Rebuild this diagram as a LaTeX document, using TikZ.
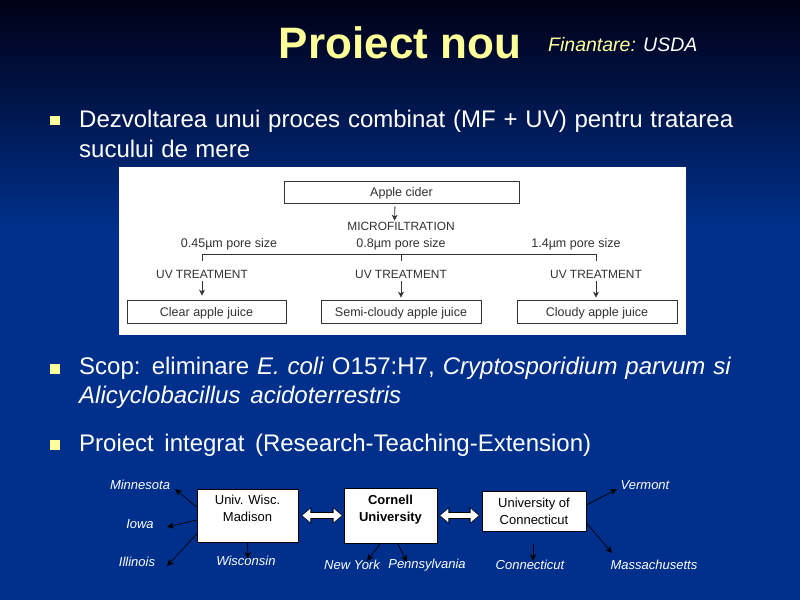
\documentclass[tikz,border=0pt]{standalone}
\usepackage{fontspec}
\setmainfont{Liberation Sans}
\usetikzlibrary{arrows.meta}
\definecolor{slideblue}{RGB}{0,48,140}
\definecolor{slidetop}{RGB}{0,0,22}
\definecolor{bulyellow}{RGB}{255,255,153}
\definecolor{scangray}{RGB}{50,50,50}
\tikzset{
	panelbox/.style={draw=scangray,line width=0.8pt,fill=white,inner sep=0pt,text depth=0pt,font=\fontsize{12.5}{14}\selectfont,text=scangray},
	paneltext/.style={inner sep=0pt,font=\fontsize{11.9}{14}\selectfont,text=scangray},
	panelarrow/.style={-{Stealth[length=6pt,width=6pt]},draw=scangray,line width=0.8pt},
	bodytext/.style={anchor=west,inner sep=0pt,text=white,font=\fontsize{24}{28}\selectfont},
	bulletbox/.style={fill=bulyellow,minimum size=9.5pt,inner sep=0pt},
	unibox/.style={draw=black,line width=0.7pt,fill=white,inner sep=0pt,align=center,font=\fontsize{13}{17}\selectfont},
	state/.style={inner sep=0pt,text=white,font=\fontsize{13}{15}\selectfont\itshape},
	statearrow/.style={-{Stealth[length=7pt,width=6.5pt]},draw=black,line width=0.7pt},
	linkback/.style={draw=black,line width=7pt,{Triangle[length=10pt,width=16pt]}-{Triangle[length=10pt,width=16pt]}},
	linkfront/.style={draw=white,line width=5pt,{Triangle[length=8pt,width=13pt]}-{Triangle[length=8pt,width=13pt]},shorten <=1pt,shorten >=1pt},
}
\begin{document}
\begin{tikzpicture}[>=stealth,line join=round,x=1pt,y=-1pt]
	\useasboundingbox (0,0) rectangle (800,600);
	\fill[slideblue] (0,0) rectangle (800,600);
	\shade[top color=slidetop,bottom color=slideblue] (0,0) rectangle (800,230);
	% title and bullets
	\node[inner sep=0pt,text=bulyellow,font=\fontsize{44}{48}\selectfont\bfseries] (title) at (400,43) {Proiect nou};
	\node[inner sep=0pt,anchor=west,text=white,font=\fontsize{19.5}{22}\selectfont\itshape] (fund) at (548,45) {\textcolor{bulyellow}{Finantare:} USDA};
	\node[bulletbox] (bulA) at (55,120.5) {};
	\node[bodytext] (lineA) at (79,121) {\makebox[654pt][s]{Dezvoltarea unui proces combinat (MF + UV) pentru tratarea}};
	\node[bodytext] (lineB) at (79,149) {\makebox[171pt][s]{sucului de mere}};
	\node[bulletbox] (bulB) at (55,369) {};
	\node[bodytext] (lineC) at (79,368) {\makebox[652pt][s]{Scop: eliminare \textit{E. coli} O157:H7, \textit{Cryptosporidium parvum si}}};
	\node[bodytext] (lineD) at (79,397) {\makebox[322pt][s]{\textit{Alicyclobacillus acidoterrestris}}};
	\node[bulletbox] (bulC) at (55,445) {};
	\node[bodytext] (lineE) at (79,445) {\makebox[512pt][s]{Proiect integrat (Research-Teaching-Extension)}};
	% white panel
	\fill[white] (118.5,167) rectangle (686,335);
	\node[panelbox,minimum width=235pt,minimum height=22pt] (apple) at (401.5,192) {Apple cider};
	\node[paneltext] (micro) at (401,226) {MICROFILTRATION};
	\node[paneltext,font=\fontsize{12.5}{14}\selectfont] (poreA) at (229,244) {0.45µm pore size};
	\node[paneltext,font=\fontsize{12.5}{14}\selectfont] (poreB) at (401,244) {0.8µm pore size};
	\node[paneltext,font=\fontsize{12.5}{14}\selectfont] (poreC) at (576,244) {1.4µm pore size};
	\node[paneltext] (uvA) at (202,274) {UV TREATMENT};
	\node[paneltext] (uvB) at (401,274) {UV TREATMENT};
	\node[paneltext] (uvC) at (596,274) {UV TREATMENT};
	\node[panelbox,minimum width=159pt,minimum height=23pt] (clear) at (206.5,311.5) {Clear apple juice};
	\node[panelbox,minimum width=160pt,minimum height=23pt] (semi) at (401,311.5) {Semi-cloudy apple juice};
	\node[panelbox,minimum width=160pt,minimum height=23pt] (cloudy) at (597,311.5) {Cloudy apple juice};
	\coordinate (brA) at (202,254);
	\coordinate (brB) at (401,254);
	\coordinate (brC) at (596,254);
	\draw[panelarrow,shorten <=3pt,shorten >=1pt] ([xshift=-6.5pt]apple.south) -- ([xshift=-6.5pt]micro.north);
	\draw[draw=scangray,line width=0.8pt] (brA)++(0,7) -- (brA) -- (brC) -- ++(0,7);
	\draw[draw=scangray,line width=0.8pt] (brB) -- ++(0,7);
	\draw[panelarrow,shorten <=3pt,shorten >=4pt] (uvA.south) -- (uvA.south |- clear.north);
	\draw[panelarrow,shorten <=3pt,shorten >=2pt] (uvB.south) -- (semi.north);
	\draw[panelarrow,shorten <=3pt,shorten >=2pt] (uvC.south) -- (uvC.south |- cloudy.north);
	% universities
	\node[unibox,minimum width=101pt,minimum height=53pt,text depth=14pt] (wisc) at (247.5,515.5) {Univ. Wisc.\\Madison};
	\node[unibox,minimum width=93pt,minimum height=55pt,text depth=14pt,font=\fontsize{13}{17}\selectfont\bfseries] (cornell) at (390.5,515.5) {Cornell\\University};
	\node[unibox,minimum width=104pt,minimum height=40pt] (conn) at (534,511) {University of\\Connecticut};
	\node[state] (mn) at (140,485) {Minnesota};
	\node[state] (ia) at (140,524) {Iowa};
	\node[state] (il) at (137,562) {Illinois};
	\node[state] (wi) at (246,561) {Wisconsin};
	\node[state] (ny) at (352,565) {New York};
	\node[state] (pa) at (427,565) {Pennsylvania};
	\node[state] (ct) at (530,565) {Connecticut};
	\node[state] (ma) at (654,565) {Massachusetts};
	\node[state] (vt) at (645,485) {Vermont};
	\coordinate (mnEnd) at (175,489);
	\coordinate (iaEnd) at (167,527);
	\coordinate (ilEnd) at (167,566);
	\coordinate (wiEnd) at (248,559);
	\coordinate (nyEnd) at (367,561);
	\coordinate (paEnd) at (407,562);
	\coordinate (ctStart) at (533,544);
	\coordinate (ctEnd) at (533,561);
	\coordinate (vtEnd) at (617,489);
	\coordinate (maEnd) at (612,553);
	\draw[statearrow] ([yshift=8.5pt]wisc.west) -- (mnEnd);
	\draw[statearrow] ([yshift=-4.5pt]wisc.west) -- (iaEnd);
	\draw[statearrow] ([yshift=-18.5pt]wisc.west) -- (ilEnd);
	\draw[statearrow] (wisc.south) -- (wiEnd);
	\draw[statearrow] ([xshift=-10pt]cornell.south) -- (nyEnd);
	\draw[statearrow] ([xshift=7pt]cornell.south) -- (paEnd);
	\draw[statearrow] (ctStart) -- (ctEnd);
	\draw[statearrow] ([yshift=6pt]conn.east) -- (vtEnd);
	\draw[statearrow] ([yshift=-12pt]conn.east) -- (maEnd);
	\draw[linkback] (wisc.east)++(3,0) -- ([xshift=-1pt]cornell.west);
	\draw[linkfront] (wisc.east)++(3,0) -- ([xshift=-1pt]cornell.west);
	\draw[linkback] (cornell.east)++(2,0) -- ([xshift=-2pt]cornell.east -| conn.west);
	\draw[linkfront] (cornell.east)++(2,0) -- ([xshift=-2pt]cornell.east -| conn.west);
\end{tikzpicture}
\end{document}
